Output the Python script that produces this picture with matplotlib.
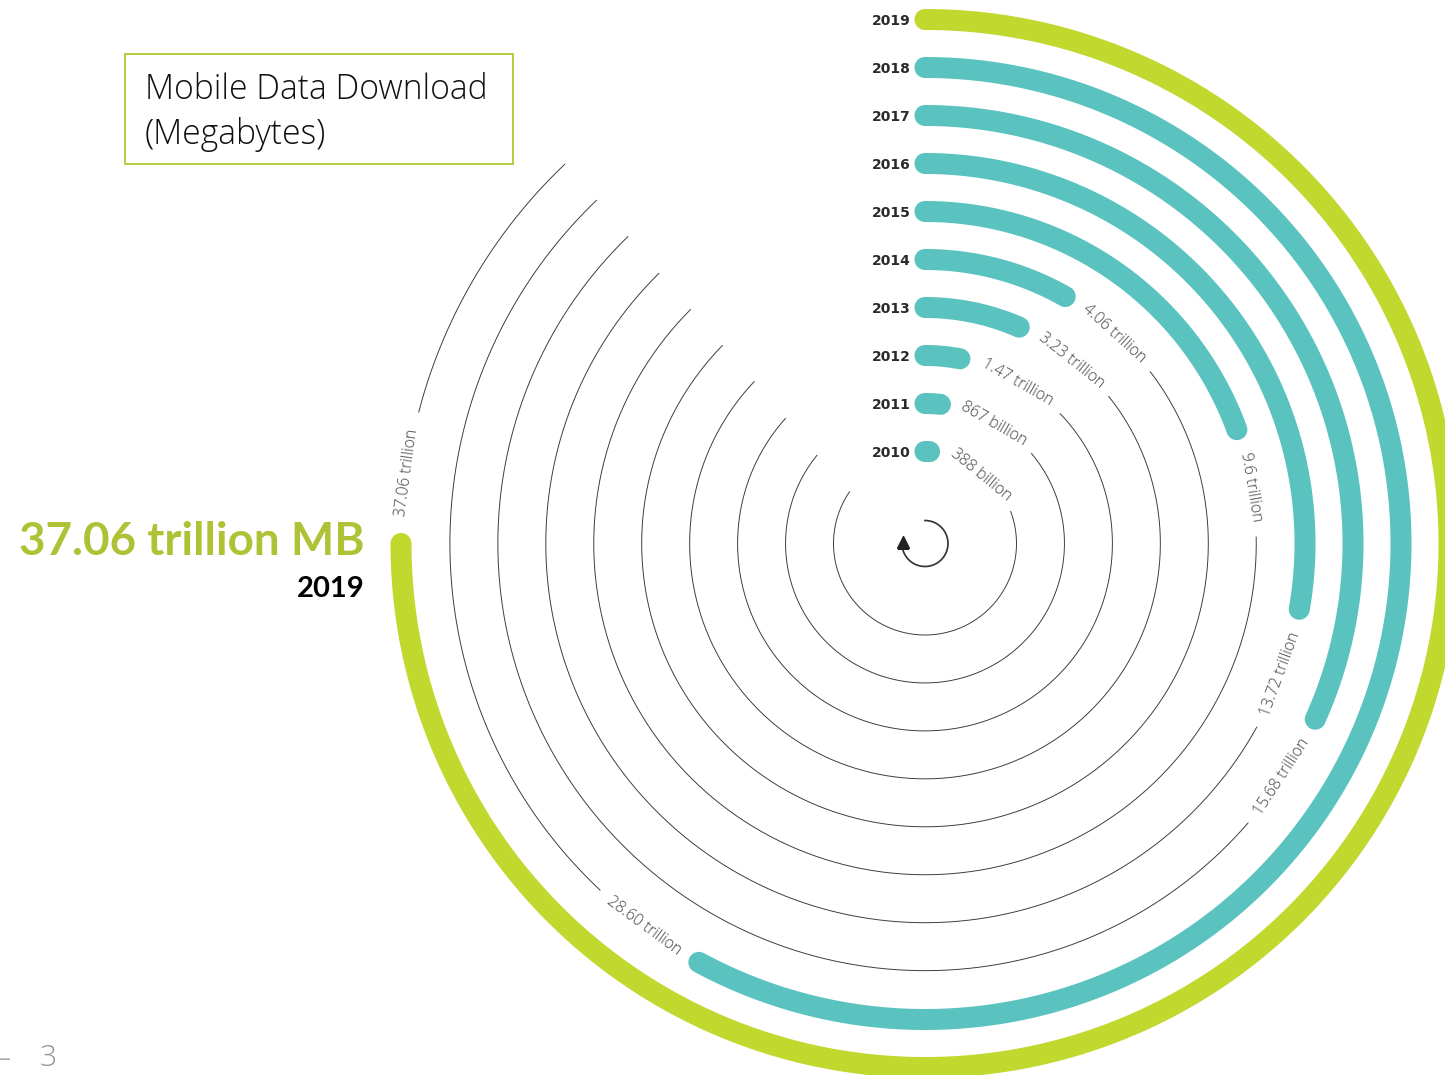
import numpy as np
import matplotlib
matplotlib.use("Agg")
import matplotlib.pyplot as plt
from matplotlib.patches import Rectangle
from matplotlib.textpath import TextPath
from matplotlib.font_manager import FontProperties

# ---- data ----
years = [2010, 2011, 2012, 2013, 2014, 2015, 2016, 2017, 2018, 2019]
values_trillion = [0.388, 0.867, 1.47, 3.23, 4.06, 9.6, 13.72, 15.68, 28.60, 37.06]
value_labels = ["388 billion", "867 billion", "1.47 trillion", "3.23 trillion", "4.06 trillion",
                "9.6 trillion", "13.72 trillion", "15.68 trillion", "28.60 trillion", "37.06 trillion"]
# thin guide arcs: clockwise degrees from north
guide_start_deg = [69.2, 49.6, 46.0, 51.2, 52.6, 88.8, 118.9, 130.8, 223.1, 284.5]
guide_end_deg = [304.7, 309.4, 312.0, 313.6, 314.4, 315.0, 315.5, 316.0, 316.3, 316.5]
title_text = "Mobile Data Download\n(Megabytes)"
headline_text = "37.06 trillion MB"
headline_year = "2019"
page_number = "3"

# ---- layout / style ----
W, H, DPI = 1445, 1075, 100
CX, CY, RMAX = 925.0, 543.5, 545.0
R0, DR = 92.0, 48.0
GUIDE_R0, GUIDE_DR = 91.5, 47.95
BAR_W = 21.0
px = 72.0 / DPI
FULL_SWEEP = 270.0
TEAL, LIME, OLIVE = "#5AC3C0", "#C1D82F", "#AFC135"
FONT = "Open Sans"

fig = plt.figure(figsize=(W / DPI, H / DPI), dpi=DPI, facecolor="white")
ax = fig.add_axes([(CX - RMAX) / W, (H - CY - RMAX) / H, 2 * RMAX / W, 2 * RMAX / H],
                  projection="polar")
ax.set_theta_zero_location("N")
ax.set_theta_direction(-1)
ax.set_rlim(0, RMAX)
ax.set_axis_off()


def band_outline(r, sweep_deg, half):
    """Polar outline of a round-capped arc band (filled, so it survives the canvas edge)."""
    end = np.radians(sweep_deg)
    arc = np.linspace(0, end, 400)
    t = np.linspace(0, np.pi, 30)

    def cap(th0, sign):
        radial = half * np.cos(t)
        tang = sign * half * np.sin(t)
        return th0 + np.arctan2(tang, r + radial), np.hypot(r + radial, tang)

    th_end, r_end = cap(end, 1)
    th_start, r_start = cap(0.0, -1)
    thetas = np.concatenate([arc, th_end, arc[::-1], th_start[::-1]])
    radii = np.concatenate([np.full_like(arc, r + half), r_end,
                            np.full_like(arc, r - half), r_start[::-1]])
    return thetas, radii


label_fp = FontProperties(family=FONT, weight="light", size=11.4)
max_value = max(values_trillion)

for i, (year, val, lab, g0, g1) in enumerate(zip(years, values_trillion, value_labels,
                                                 guide_start_deg, guide_end_deg)):
    r = R0 + DR * i
    sweep = val / max_value * FULL_SWEEP
    colour = LIME if year == 2019 else TEAL
    thetas, radii = band_outline(r, sweep, BAR_W / 2)
    ax.fill(thetas, radii, color=colour, lw=0)
    gth = np.radians(np.linspace(g0, g1, 400))
    ax.plot(gth, np.full_like(gth, GUIDE_R0 + GUIDE_DR * i), color="#3a3a3a", lw=0.95 * px,
            solid_capstyle="butt")

    # centred label between the bar end and the guide start
    cap_deg = np.degrees(10.0 / r)
    mid = (sweep + cap_deg + g0) / 2
    width = TextPath((0, 0), lab, prop=label_fp).get_extents().width / px
    r_text = r - width ** 2 / (8 * r) / 2
    rot = 180 - mid if 90 < mid < 270 else -mid
    ax.text(np.radians(mid), r_text, lab, rotation=rot, rotation_mode="anchor",
            ha="center", va="center", fontproperties=label_fp, color="#444444")

    # year label
    fig.text(911 / W, 1 - (CY - r) / H, str(year), ha="right", va="center_baseline",
             family="DejaVu Sans", weight="bold", size=10, color="#2a2a2a")

# direction icon
ith = np.radians(np.linspace(0, 268, 200))
ax.plot(ith, np.full_like(ith, 23.0), color="#333333", lw=1.7 * px)
ax.plot(np.radians([274]), [22.0], marker="^", ms=12 * px, color="#222222", ls="none")

# title box
fig.add_artist(Rectangle((125 / W, 1 - 164 / H), 388 / W, 110 / H, transform=fig.transFigure,
                         facecolor="none", edgecolor="#B9CC45", lw=2 * px))
fig.text(145 / W, 1 - 112 / H, title_text, ha="left", va="center", family=FONT, weight="light",
         size=24.2, color="#111111", linespacing=1.37)

# headline
fig.text(364.5 / W, 1 - 555 / H, headline_text, ha="right", va="baseline", family="Lato", weight="bold",
         size=33.0, color=OLIVE)
fig.text(364.5 / W, 1 - 597 / H, headline_year, ha="right", va="baseline", family="Lato", weight="bold",
         size=21, color="black")

# page furniture
fig.text(40 / W, 1 - 1066 / H, page_number, ha="left", va="baseline", family=FONT, weight="light",
         size=21.5, color="#8E939B")
fig.text(-1 / W, 1 - 1066 / H, "\u2013", ha="left", va="baseline", family=FONT, size=17, color="#A4A8AE")

fig.savefig("out.png", dpi=DPI, facecolor="white")
